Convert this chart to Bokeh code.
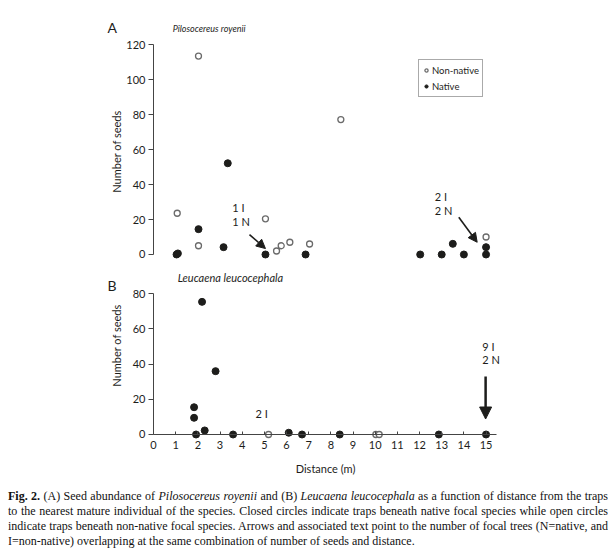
from math import pi
from bokeh.plotting import figure
from bokeh.models import (Label, Arrow, NormalHead, Legend, LegendItem, Div, FixedTicker)
from bokeh.layouts import column
from bokeh.embed import file_html
from bokeh.resources import INLINE

# ---------------- data ----------------
# Panel A: Pilosocereus royenii
a_nonnative_x = [1.07, 2.03, 2.03, 5.05, 5.55, 5.76, 6.15, 7.04, 8.45, 15.0]
a_nonnative_y = [23.6, 113.5, 5.0, 20.4, 2.0, 5.0, 7.0, 6.0, 77.2, 10.0]
a_native_x = [1.04, 1.10, 2.03, 3.35, 3.16, 5.05, 6.86, 12.03, 13.0, 13.5, 14.0, 15.0, 15.0]
a_native_y = [0.0, 0.6, 14.5, 52.2, 4.2, 0.0, 0.0, 0.0, 0.0, 6.1, 0.0, 0.0, 4.2]

# Panel B: Leucaena leucocephala
b_native_x = [2.19, 2.80, 1.83, 1.83, 1.92, 2.31, 3.59, 6.10, 6.70, 8.40, 12.87, 15.0]
b_native_y = [75.4, 36.0, 15.5, 9.5, 0.0, 2.3, 0.0, 1.0, 0.0, 0.0, 0.0, 0.0]
b_nonnative_x = [5.19, 10.03, 10.18]
b_nonnative_y = [0.0, 0.0, 0.0]

x_ticks = list(range(0, 16))
a_y_ticks = [0, 20, 40, 60, 80, 100, 120]
b_y_ticks = [0, 20, 40, 60, 80]

FONT = "Lato"
INK = "#1d1d1b"
AXIS = "#444444"
OPEN_LINE = "#6b6b6b"
X_RANGE = (-6.901, 20.523)

def style_yaxis(p, ticks, bounds):
    ax = p.yaxis[0]
    ax.fixed_location = 0
    ax.ticker = FixedTicker(ticks=ticks)
    ax.bounds = bounds
    ax.major_tick_out = 5
    ax.major_tick_in = 0
    ax.minor_tick_line_color = None
    ax.major_label_standoff = 3
    ax.major_label_text_font = FONT
    ax.major_label_text_font_size = "11px"
    ax.major_label_text_color = INK
    ax.axis_line_color = AXIS
    ax.major_tick_line_color = AXIS

def lab(p, x, y, text, size="11px", **kw):
    p.add_layout(Label(x=x, y=y, text=text, text_font=FONT, text_font_size=size,
                       text_color=INK, text_baseline="middle", **kw))

def base(height, y_range):
    p = figure(width=608, height=height, x_range=X_RANGE, y_range=y_range,
               output_backend="svg", toolbar_location=None,
               min_border_left=0, min_border_right=0, min_border_top=0, min_border_bottom=0)
    p.grid.visible = False
    p.outline_line_color = None
    return p

# ---------------- panel A ----------------
pA = base(262, (-4.577, 145.31))
pA.xaxis.visible = False
style_yaxis(pA, a_y_ticks, (0, 120))

rA_open = pA.scatter(a_nonnative_x, a_nonnative_y, size=6, fill_color="white",
                     line_color=OPEN_LINE, line_width=1.3)
rA_closed = pA.scatter(a_native_x, a_native_y, size=7, fill_color=INK, line_color=INK)

legend = Legend(items=[LegendItem(label="Non-native", renderers=[rA_open]),
                       LegendItem(label="Native", renderers=[rA_closed])],
                location=(418, 165), label_text_font=FONT, label_text_font_size="9.5px",
                label_text_color=INK, glyph_width=8, glyph_height=10, label_height=14,
                label_standoff=2, spacing=2, padding=3, margin=0,
                border_line_color="#555555", border_line_width=1)
pA.add_layout(legend)

lab(pA, -2.07, 130.0, "A", size="14px")
lab(pA, 2.51, 129.1, "Pilosocereus royenii", size="9px", text_font_style="italic", text_align="center")
lab(pA, -1.67, 58.9, "Number of seeds", angle=pi/2, text_align="center")
lab(pA, 3.55, 26.9, "1 I")
lab(pA, 3.55, 18.9, "1 N")
lab(pA, 12.69, 33.4, "2 I")
lab(pA, 12.69, 25.0, "2 N")
pA.add_layout(Arrow(x_start=4.33, y_start=11.4, x_end=5.05, y_end=3.4, line_width=1.6,
                    line_color=INK, end=NormalHead(size=9, fill_color=INK, line_color=INK)))
pA.add_layout(Arrow(x_start=13.77, y_start=21.3, x_end=14.60, y_end=7.0, line_width=1.6,
                    line_color=INK, end=NormalHead(size=9, fill_color=INK, line_color=INK)))

# ---------------- panel B ----------------
pB = base(222, (-28.43, 97.78))
style_yaxis(pB, b_y_ticks, (0, 80))
xa = pB.xaxis[0]
xa.fixed_location = 0
xa.ticker = FixedTicker(ticks=x_ticks)
xa.bounds = (0, 15.46)
xa.major_tick_in = 3
xa.major_tick_out = 0
xa.minor_tick_line_color = None
xa.major_label_standoff = 7
xa.major_label_text_font = FONT
xa.major_label_text_font_size = "11px"
xa.major_label_text_color = INK
xa.axis_line_color = AXIS
xa.major_tick_line_color = AXIS

pB.scatter(b_nonnative_x, b_nonnative_y, size=6, fill_color="white",
           line_color=OPEN_LINE, line_width=1.3)
pB.scatter(b_native_x, b_native_y, size=7, fill_color=INK, line_color=INK)

lab(pB, -2.07, 84.7, "B", size="14px")
lab(pB, 3.47, 89.4, "Leucaena leucocephala", size="11px", text_font_style="italic", text_align="center")
lab(pB, -1.67, 50.6, "Number of seeds", angle=pi/2, text_align="center")
lab(pB, 7.76, -19.3, "Distance (m)", text_align="center")
lab(pB, 4.6, 12.1, "2 I")
lab(pB, 14.83, 50.0, "9 I")
lab(pB, 14.83, 42.6, "2 N")
pB.add_layout(Arrow(x_start=14.98, y_start=33.0, x_end=14.98, y_end=8.8, line_width=2.5,
                    line_color=INK, end=NormalHead(size=12, fill_color=INK, line_color=INK)))

# ---------------- caption ----------------
lines = [
    "<b>Fig. 2.</b> (A) Seed abundance of <i>Pilosocereus royenii</i> and (B) <i>Leucaena leucocephala</i> as a function of distance from the traps",
    "to the nearest mature individual of the species. Closed circles indicate traps beneath native focal species while open circles",
    "indicate traps beneath non-native focal species. Arrows and associated text point to the number of focal trees (N=native, and",
    "I=non-native) overlapping at the same combination of number of seeds and distance.",
]
rows = "".join(
    f'<div style="white-space:nowrap;text-align:{"justify" if i < 3 else "left"};'
    f'text-align-last:{"justify" if i < 3 else "left"};">{t}</div>'
    for i, t in enumerate(lines))
cap_html = (f'<div style="font-family:\'Liberation Serif\',serif;font-size:12px;line-height:15px;'
            f'color:#111111;width:600px;margin-left:3px;padding-top:0px;">{rows}</div>')
cap = Div(text=cap_html, width=608, height=66)

layout = column(pA, pB, cap, spacing=0)
open("out.html", "w").write(file_html(layout, INLINE))
